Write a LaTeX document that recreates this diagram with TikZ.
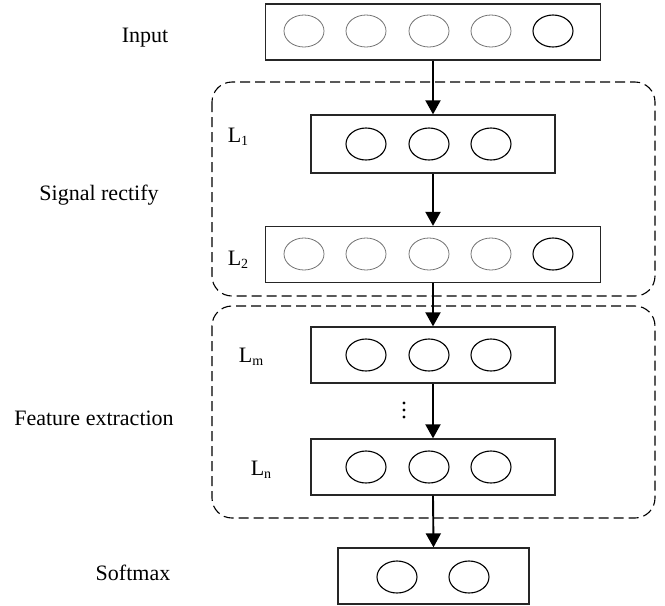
\documentclass[tikz,border=0pt]{standalone}
\usepackage{fontspec}
\setmainfont{Liberation Serif}
\usetikzlibrary{arrows.meta,shapes.geometric}

\tikzset{
  layerbox/.style={draw=black!85, line width=1.3pt, rectangle, inner sep=0pt},
  unit/.style={draw=black, line width=1.1pt, ellipse, minimum width=40pt, minimum height=32pt, inner sep=0pt},
  unitlight/.style={unit, draw=black!55, line width=0.8pt},
  group/.style={draw=black, line width=1.1pt, dash pattern=on 10pt off 5pt, rounded corners=20pt},
  flow/.style={line width=1.9pt, -{Triangle[length=14pt,width=15pt]}},
  lbl/.style={font=\fontsize{22}{25}\selectfont, inner sep=0pt},
  dot/.style={fill=black}
}

\begin{document}
\begin{tikzpicture}[x=1pt,y=-1pt]
  \useasboundingbox (0,0) rectangle (665,606);

  % dashed groups
  \draw[group] (212,82) rectangle (655,296);
  \draw[group] (212,306) rectangle (655,518);

  % layer boxes
  \node[layerbox, minimum width=335pt, minimum height=56pt] (input) at (433,32) {};
  \node[layerbox, minimum width=244pt, minimum height=58pt] (l1) at (433,144) {};
  \node[layerbox, minimum width=335pt, minimum height=56pt] (l2) at (433,254.5) {};
  \node[layerbox, minimum width=244pt, minimum height=56pt] (lm) at (433,355) {};
  \node[layerbox, minimum width=244pt, minimum height=56pt] (ln) at (433,467) {};
  \node[layerbox, minimum width=191pt, minimum height=56pt] (soft) at (433.5,576) {};

  % units of the input layer
  \node[unitlight] (i1) at (304,31) {};
  \node[unitlight] (i2) at (366,31) {};
  \node[unitlight] (i3) at (429,31) {};
  \node[unitlight] (i4) at (491,31) {};
  \node[unit]      (i5) at (553,31) {};

  % units of L1
  \node[unit] (a1) at (366,144) {};
  \node[unit] (a2) at (429,144) {};
  \node[unit] (a3) at (491,144) {};

  % units of L2
  \node[unitlight] (b1) at (304,254) {};
  \node[unitlight] (b2) at (366,254) {};
  \node[unitlight] (b3) at (429,254) {};
  \node[unitlight] (b4) at (491,254) {};
  \node[unit]      (b5) at (553,254) {};

  % units of Lm
  \node[unit] (m1) at (366,355) {};
  \node[unit] (m2) at (429,355) {};
  \node[unit] (m3) at (491,355) {};

  % units of Ln
  \node[unit] (n1) at (366,467) {};
  \node[unit] (n2) at (429,467) {};
  \node[unit] (n3) at (491,467) {};

  % softmax units
  \node[unit] (s1) at (397,577) {};
  \node[unit] (s2) at (469,577) {};

  % connections
  \draw[flow] (input.south) -- (l1.north);
  \draw[flow] (l1.south) -- (l2.north);
  \draw[flow] (l2.south) -- (lm.north);
  \draw[flow] (lm.south) -- (ln.north);
  \draw[flow] (ln.south) -- (soft.north);

  % vertical ellipsis between Lm and Ln
  \fill[dot] (404,403) circle (1.6pt);
  \fill[dot] (404,410) circle (1.6pt);
  \fill[dot] (404,417) circle (1.6pt);

  % labels
  \node[lbl] (tin)   at (145,38)  {Input};
  \node[lbl] (tsig)  at (99,195)  {Signal rectify};
  \node[lbl] (tfeat) at (94,418)  {Feature extraction};
  \node[lbl] (tsoft) at (133,573) {Softmax};
  \node[lbl] (tl1) at (238,137) {L\raisebox{-0.3ex}{\fontsize{14}{16}\selectfont 1}};
  \node[lbl] (tl2) at (238,260) {L\raisebox{-0.3ex}{\fontsize{14}{16}\selectfont 2}};
  \node[lbl] (tlm) at (251,357) {L\raisebox{-0.3ex}{\fontsize{14}{16}\selectfont m}};
  \node[lbl] (tln) at (261,470) {L\raisebox{-0.3ex}{\fontsize{14}{16}\selectfont n}};
\end{tikzpicture}
\end{document}
